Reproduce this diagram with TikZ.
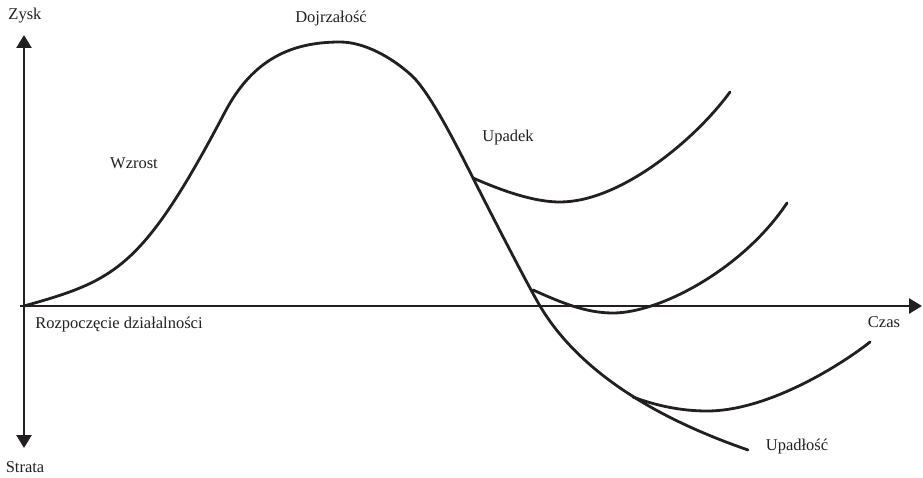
\documentclass[tikz,border=0pt]{standalone}
\usepackage{fontspec}
\setmainfont{Liberation Serif}
\usetikzlibrary{arrows.meta}
\definecolor{ink}{RGB}{35,31,32}
\begin{document}
\begin{tikzpicture}[x=1pt,y=-1pt,
  axis/.style={draw=ink,line width=2.6pt,-{Triangle[width=15pt,length=13pt]}},
  curve/.style={draw=ink,line width=2.8pt,line cap=round},
  lbl/.style={text=ink,font=\fontsize{16.5}{19}\selectfont,inner sep=0pt}]
\useasboundingbox (0,0) rectangle (923,478);
% axes
\coordinate (O) at (24,306);
\coordinate (top) at (24,35);
\coordinate (bot) at (24,448);
\coordinate (right) at (922,306);
\coordinate (left) at (20,306);
\draw[axis] (O) -- (top);
\draw[axis] (O) -- (bot);
\draw[axis] (left) -- (right);
% key points
\coordinate (s) at (24,306);
\coordinate (g) at (225,112);
\coordinate (peak) at (340,42);
\coordinate (d) at (410,74);
\coordinate (b1) at (473,178);
\coordinate (m) at (540,306);
\coordinate (end) at (748,450);
\coordinate (b2) at (533,290);
\coordinate (b3) at (633,397);
% main curve
\draw[curve] (s) .. controls (115.6,280.4) and (142.7,268.4) .. (g)
  .. controls (253,58.7) and (292,42) .. (peak)
  .. controls (365,42) and (392,58) .. (d)
  .. controls (429,90) and (457,146.5) .. (b1)
  .. controls (484,200) and (527,284) .. (m)
  .. controls (591,392) and (701,433.5) .. (end);
% branches
\draw[curve] (b1) .. controls (505,192) and (535,202) .. (560,202)
  .. controls (620,202) and (695,140) .. (730,92);
\draw[curve] (b2) .. controls (560,302) and (585,313) .. (613,313)
  .. controls (660,313) and (743,269) .. (787,203);
\draw[curve] (b3) .. controls (657,406) and (682,411) .. (707,411)
  .. controls (770,411) and (845,362) .. (870,342);
% labels
\node[lbl] (zysk) at (25,16) {Zysk};
\node[lbl] (strata) at (25,467) {Strata};
\node[lbl] (start) at (119,325) {Rozpoczęcie działalności};
\node[lbl] (dojr) at (331,19) {Dojrzałość};
\node[lbl] (wzrost) at (134,163) {Wzrost};
\node[lbl] (upadek) at (508,138) {Upadek};
\node[lbl] (czas) at (884,322) {Czas};
\node[lbl] (upadlosc) at (797,447) {Upadłość};
\end{tikzpicture}
\end{document}
